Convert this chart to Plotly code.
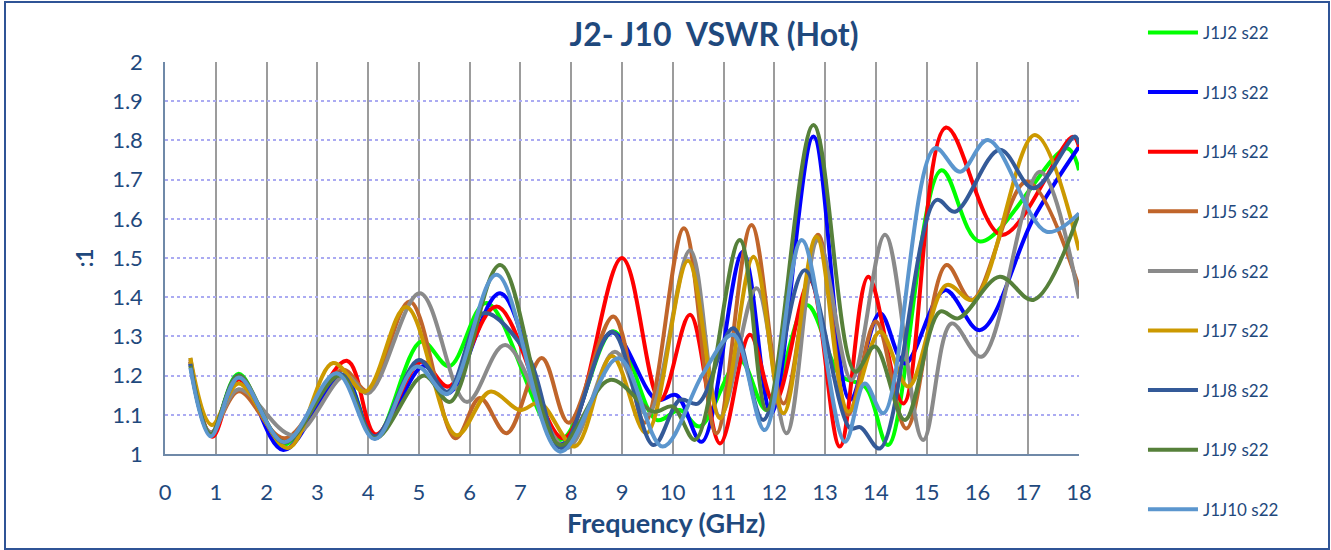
import plotly.graph_objects as go

# ---------------- data (frequency in GHz, VSWR :1) ----------------
series_names = ["J1J2 s22", "J1J3 s22", "J1J4 s22", "J1J5 s22", "J1J6 s22",
                "J1J7 s22", "J1J8 s22", "J1J9 s22", "J1J10 s22"]
series_colors = ["#00FF00", "#0000FF", "#FF0000", "#C0652A", "#8A8A8A",
                 "#CC9900", "#345A98", "#56803A", "#5B96CE"]

f_j1j2 = [0.5, 0.9, 1.45, 2.3, 3.5, 4.13, 5.05, 5.6, 6.33, 7.78, 8.83, 9.68, 10.14, 10.53,
          11.32, 11.85, 12.64, 13.3, 13.8, 14.24, 15.29, 16.05, 17.76, 18.0]
v_j1j2 = [1.235, 1.05, 1.205, 1.022, 1.2, 1.04, 1.287, 1.224, 1.385, 1.036, 1.313, 1.087, 1.112, 1.07,
          1.24, 1.112, 1.38, 1.2, 1.17, 1.023, 1.724, 1.542, 1.78, 1.724]

f_j1j3 = [0.5, 0.9, 1.45, 2.33, 3.5, 4.13, 5.1, 5.58, 6.6, 7.8, 8.8, 9.68, 10.07, 10.57,
          11.38, 11.94, 12.77, 13.49, 14.08, 14.57, 15.36, 16.05, 17.1, 18.0]
v_j1j3 = [1.23, 1.05, 1.2, 1.01, 1.2, 1.04, 1.225, 1.155, 1.41, 1.025, 1.31, 1.138, 1.15, 1.031,
          1.515, 1.104, 1.81, 1.138, 1.359, 1.231, 1.418, 1.316, 1.6, 1.784]

f_j1j4 = [0.5, 0.93, 1.45, 2.35, 3.58, 4.15, 5.05, 5.58, 6.53, 7.85, 9.0, 9.75, 10.34, 10.93,
          11.52, 12.0, 12.7, 13.29, 13.85, 14.54, 15.38, 16.48, 17.88, 18.0]
v_j1j4 = [1.235, 1.044, 1.19, 1.03, 1.238, 1.05, 1.235, 1.172, 1.376, 1.04, 1.5, 1.138, 1.355, 1.027,
          1.304, 1.13, 1.442, 1.019, 1.452, 1.129, 1.833, 1.559, 1.809, 1.784]

f_j1j5 = [0.5, 0.9, 1.45, 2.35, 3.5, 4.0, 4.82, 5.72, 6.2, 6.73, 7.42, 7.95, 8.83, 9.45, 10.22,
          10.86, 11.55, 12.18, 12.86, 13.45, 14.0, 14.6, 15.39, 15.89, 16.97, 18.0]
v_j1j5 = [1.24, 1.055, 1.16, 1.04, 1.215, 1.16, 1.389, 1.04, 1.143, 1.053, 1.245, 1.08, 1.351, 1.08, 1.576,
          1.053, 1.584, 1.129, 1.559, 1.1, 1.338, 1.065, 1.482, 1.393, 1.695, 1.425]

f_j1j6 = [0.5, 0.9, 1.45, 2.53, 3.55, 4.0, 5.02, 5.94, 6.7, 7.91, 8.86, 9.5, 10.34, 10.93,
          11.65, 12.24, 12.86, 13.52, 14.18, 14.93, 15.49, 16.08, 17.23, 18.0]
v_j1j6 = [1.245, 1.055, 1.165, 1.048, 1.2, 1.155, 1.41, 1.133, 1.278, 1.015, 1.261, 1.1, 1.52, 1.095,
          1.423, 1.053, 1.546, 1.189, 1.559, 1.036, 1.333, 1.248, 1.72, 1.397]

f_j1j7 = [0.5, 0.92, 1.45, 2.42, 3.31, 3.94, 4.75, 5.74, 6.4, 6.99, 7.38, 8.07, 8.8, 9.48, 10.3,
          10.93, 11.59, 12.18, 12.83, 13.46, 14.08, 14.64, 15.39, 15.92, 17.13, 18.0]
v_j1j7 = [1.245, 1.074, 1.18, 1.015, 1.232, 1.159, 1.375, 1.048, 1.159, 1.112, 1.13, 1.019, 1.25, 1.053, 1.493,
          1.091, 1.503, 1.104, 1.554, 1.108, 1.312, 1.172, 1.431, 1.393, 1.814, 1.52]

f_j1j8 = [0.5, 0.9, 1.45, 2.35, 3.45, 4.13, 5.0, 5.56, 6.27, 7.12, 7.8, 8.8, 9.62, 10.14, 10.5,
          11.19, 11.78, 12.6, 13.49, 13.7, 14.08, 15.19, 15.56, 16.44, 17.1, 17.92, 18.0]
v_j1j8 = [1.23, 1.05, 1.195, 1.03, 1.205, 1.045, 1.24, 1.159, 1.359, 1.257, 1.015, 1.312, 1.023, 1.138, 1.129,
          1.321, 1.087, 1.469, 1.066, 1.068, 1.014, 1.648, 1.618, 1.776, 1.678, 1.81, 1.79]

f_j1j9 = [0.5, 0.9, 1.45, 2.35, 3.45, 4.13, 5.1, 5.61, 6.6, 7.78, 8.76, 9.62, 10.0, 10.44,
          11.32, 11.85, 12.77, 13.59, 13.98, 14.57, 15.26, 15.62, 16.44, 17.1, 18.0]
v_j1j9 = [1.225, 1.05, 1.2, 1.03, 1.2, 1.04, 1.2, 1.133, 1.482, 1.023, 1.189, 1.108, 1.121, 1.036,
          1.546, 1.112, 1.839, 1.21, 1.274, 1.087, 1.363, 1.346, 1.452, 1.393, 1.614]

f_j1j10 = [0.5, 0.9, 1.45, 2.35, 3.38, 4.13, 4.96, 5.56, 6.53, 7.78, 8.93, 9.8, 10.6, 11.19,
           11.81, 12.54, 13.39, 13.78, 14.15, 15.16, 15.66, 16.21, 17.36, 18.0]
v_j1j10 = [1.22, 1.045, 1.195, 1.03, 1.206, 1.038, 1.223, 1.153, 1.457, 1.006, 1.244, 1.019, 1.206, 1.304,
           1.061, 1.546, 1.031, 1.18, 1.104, 1.78, 1.72, 1.801, 1.567, 1.614]

freqs = [f_j1j2, f_j1j3, f_j1j4, f_j1j5, f_j1j6, f_j1j7, f_j1j8, f_j1j9, f_j1j10]
values = [v_j1j2, v_j1j3, v_j1j4, v_j1j5, v_j1j6, v_j1j7, v_j1j8, v_j1j9, v_j1j10]

x_ticks = list(range(0, 19))
y_ticks = [1, 1.1, 1.2, 1.3, 1.4, 1.5, 1.6, 1.7, 1.8, 1.9, 2]
y_tick_text = ["1", "1.1", "1.2", "1.3", "1.4", "1.5", "1.6", "1.7", "1.8", "1.9", "2"]

# ---------------- figure ----------------
FONT = "Lato"
TXT = "#1F497D"

fig = go.Figure()
for i, (name, col, fx, vy) in enumerate(zip(series_names, series_colors, freqs, values)):
    fig.add_trace(go.Scatter(
        x=fx, y=vy, name=name, mode="lines",
        line=dict(color=col, width=4, shape="spline", smoothing=1.0),
        legendgroup=f"g{i}",
    ))

fig.update_layout(
    width=1331, height=550,
    margin=dict(l=165, r=252, t=62, b=96, autoexpand=False),
    paper_bgcolor="white", plot_bgcolor="white",
    font=dict(family=FONT, color=TXT),
    title=dict(text="<b>J2- J10  VSWR (Hot)</b>", x=714 / 1331, xanchor="center",
               y=1 - 35 / 550, yanchor="middle",
               font=dict(size=32, family=FONT, color=TXT)),
    showlegend=True,
    legend=dict(x=1.07, xanchor="left", y=1.12, yanchor="top",
                font=dict(size=17, family=FONT, color=TXT),
                tracegroupgap=34.5, itemwidth=50, bgcolor="rgba(0,0,0,0)",
                maxheight=545),
    xaxis=dict(range=[0, 18], tickvals=x_ticks, ticks="", showgrid=True,
               gridcolor="#9C9C9C", gridwidth=1.5, zeroline=False,
               showline=True, linecolor="#6F89A8", linewidth=1.5,
               tickfont=dict(size=22, family=FONT, color=TXT), ticklabelstandoff=18),
    yaxis=dict(range=[1, 2], tickvals=y_ticks, ticktext=y_tick_text, ticks="", showgrid=True,
               gridcolor="#ABABF2", gridwidth=1.5, griddash="dot", zeroline=False,
               showline=True, linecolor="#6F89A8", linewidth=1.5,
               tickfont=dict(size=22, family=FONT, color=TXT), ticklabelstandoff=16,
               title=dict(text="<b>:1</b>", font=dict(size=22, family=FONT, color=TXT),
                          standoff=12)),
    annotations=[dict(text="<b>Frequency (GHz)</b>", xref="paper", yref="paper",
                      x=(666 - 165) / 914, y=(454 - 522) / 392, xanchor="center", yanchor="middle",
                      showarrow=False, font=dict(size=27, family=FONT, color=TXT))],
    shapes=[dict(type="rect", xref="paper", yref="paper",
                 x0=(5 - 165) / 914, x1=(1329 - 165) / 914,
                 y0=(454 - 549) / 392, y1=(454 - 2) / 392,
                 line=dict(color="#2F5496", width=2), fillcolor="rgba(0,0,0,0)",
                 layer="below")],
)

fig.write_html("out.html", config={"displayModeBar": False},
               post_script="document.body.style.margin='0';document.body.style.overflow='hidden';")
